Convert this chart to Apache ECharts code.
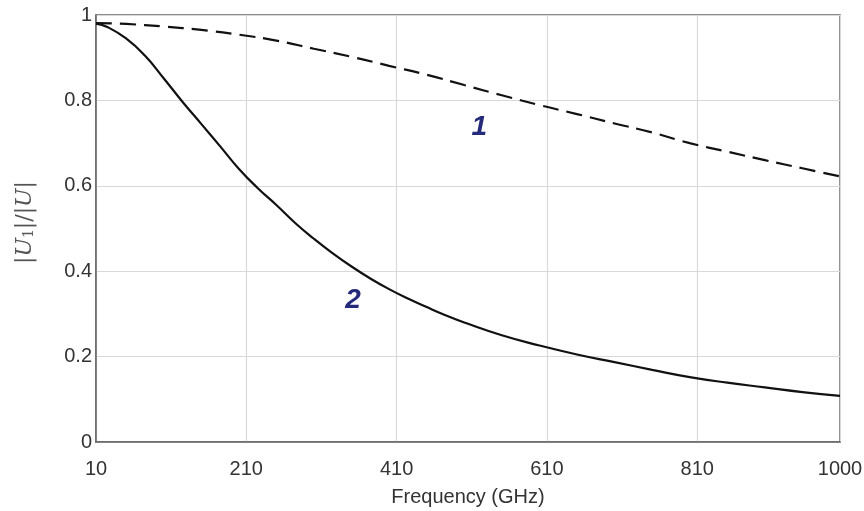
<!DOCTYPE html>
<html><head><meta charset="utf-8">
<script src="https://cdn.jsdelivr.net/npm/echarts@6/dist/echarts.min.js"></script>
<style>html,body{margin:0;padding:0;background:#fff}#c{width:864px;height:511px}</style>
</head><body><div id="c"></div>
<script>
const freq1 = [10,50,100,150,200,250,300,350,400,450,500,550,600,650,700,750,800,850,900,950,1000];
const curve1 = [0.981,0.979,0.973,0.965,0.954,0.940,0.921,0.902,0.881,0.860,0.836,0.812,0.789,0.768,0.746,0.725,0.700,0.680,0.660,0.641,0.622];
const freq2 = [10,25,50,75,100,125,150,175,200,225,250,275,300,325,350,375,400,425,450,475,500,550,600,650,700,750,800,850,900,950,1000];
const curve2 = [0.980,0.972,0.945,0.905,0.852,0.797,0.745,0.693,0.640,0.595,0.555,0.513,0.476,0.442,0.411,0.383,0.358,0.336,0.316,0.297,0.280,0.250,0.226,0.205,0.187,0.169,0.152,0.139,0.128,0.117,0.108];
const xMin = 10, xMax = 1000, xStep = 200;
const yMin = 0, yMax = 1, yStep = 0.2;
const labels = [{text:'1', x:520, y:0.738}, {text:'2', x:352, y:0.333}];

const chart = echarts.init(document.getElementById('c'));
const font = 'Liberation Sans, Arial, sans-serif';
const mathFont = 'DejaVu Serif, serif';
chart.setOption({
  animation:false,
  grid:{left:96,right:24,top:15,bottom:69,show:true,borderColor:'#666',borderWidth:1.5,
        containLabel:false,outerBoundsMode:'none'},
  xAxis:{type:'value',min:xMin,max:xMax,interval:xStep,
    name:'Frequency (GHz)',nameLocation:'middle',nameGap:45,
    nameTextStyle:{color:'#333',fontSize:20,fontFamily:font},
    axisLine:{lineStyle:{color:'#666',width:1.5}},
    axisTick:{show:false},
    axisLabel:{color:'#333',fontSize:20,fontFamily:font,margin:17,formatter:v=>String(v)},
    splitLine:{lineStyle:{color:'#d9d9d9',width:1.2}}},
  yAxis:{type:'value',min:yMin,max:yMax,interval:yStep,
    name:'|{i|U}{s|1}|/|{i|U}|',nameLocation:'middle',nameGap:60,
    nameTextStyle:{color:'#555',fontSize:22,fontFamily:mathFont,padding:[0,0,0,12],
      rich:{i:{fontStyle:'italic',fontSize:22,fontFamily:mathFont,color:'#555'},
            s:{fontSize:14,fontFamily:mathFont,color:'#555',verticalAlign:'bottom',padding:[8,0,0,0]}}},
    axisLine:{lineStyle:{color:'#666',width:1.5}},
    axisTick:{show:false},
    axisLabel:{color:'#333',fontSize:20,fontFamily:font,margin:4,
      formatter:v=>String(+v.toFixed(1))},
    splitLine:{lineStyle:{color:'#d9d9d9',width:1.2}}},
  series:[
    {type:'line',data:freq1.map((f,i)=>[f,curve1[i]]),smooth:true,showSymbol:false,
     lineStyle:{color:'#111',width:2.2,type:[16,8]}},
    {type:'line',data:freq2.map((f,i)=>[f,curve2[i]]),smooth:true,showSymbol:false,
     lineStyle:{color:'#111',width:2.2}},
    {type:'scatter',data:labels.map(l=>[l.x,l.y,l.text]),symbolSize:0,
     itemStyle:{opacity:1},emphasis:{disabled:true},silent:true,
     label:{show:true,position:'inside',formatter:p=>p.data[2],color:'#252a7a',opacity:1,
       fontSize:28,fontWeight:'bold',fontStyle:'italic',fontFamily:font}}
  ]
});
</script></body></html>
